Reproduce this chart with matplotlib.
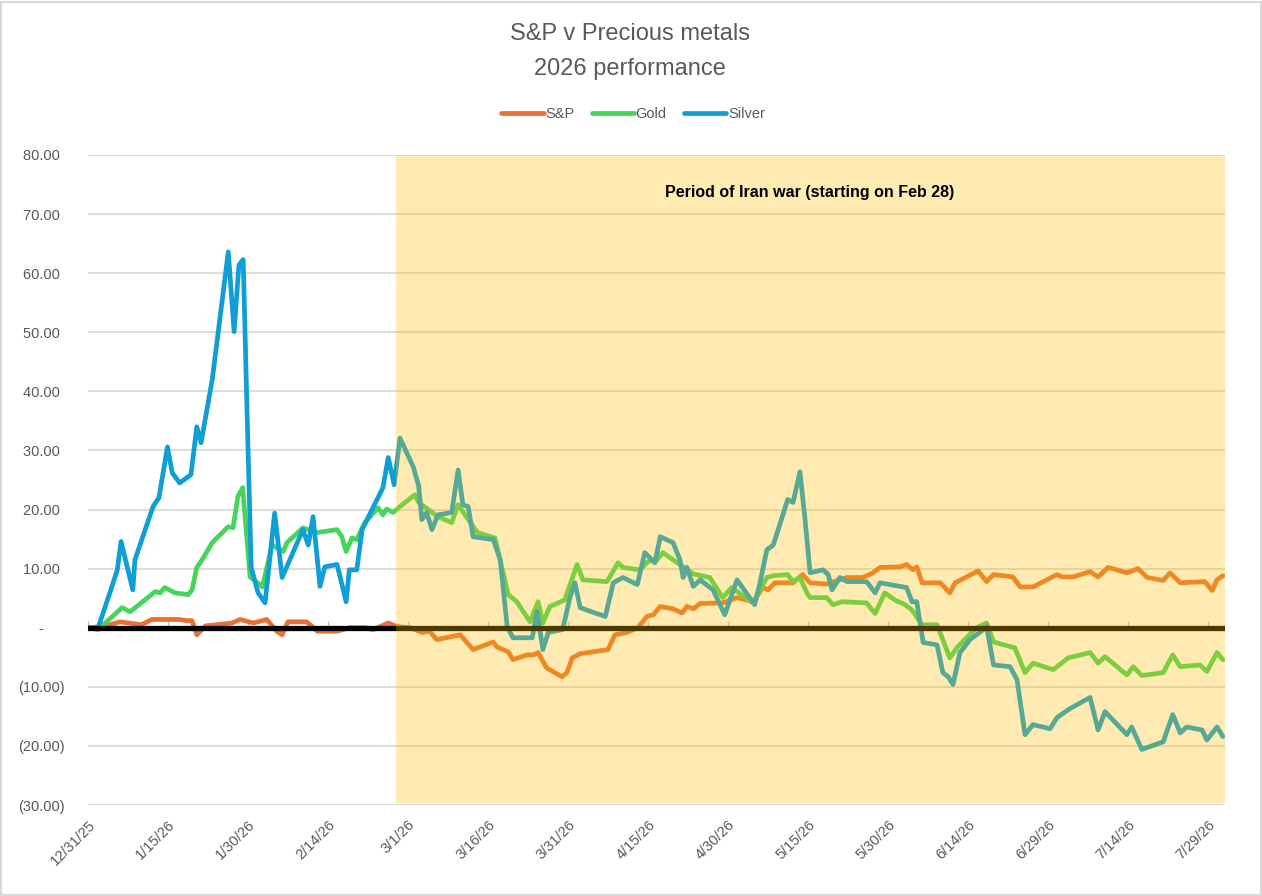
import numpy as np
import matplotlib
matplotlib.use("Agg")
import matplotlib.pyplot as plt
import matplotlib.dates as mdates
from matplotlib.patches import Rectangle
from matplotlib.ticker import FuncFormatter, FixedLocator

plt.rcParams['font.family'] = ['Liberation Sans', 'DejaVu Sans']

base = mdates.date2num(np.datetime64('2025-12-31'))

# days after 12/31/25, % change
sp_days = [0, 3, 6, 10, 12, 17, 18.5, 19.5, 20.4, 22, 27, 28.5, 31, 33.5, 35.4, 36.4, 37.5, 41,
           43, 46.7, 49, 52, 53.5, 56.3, 58, 60.4, 61.3, 62.6, 64, 65.4, 69.8, 72.2, 76, 76.6,
           78.8, 79.7, 82.3, 83.5, 84.4, 86, 88.9, 89.8, 90.8, 92.3, 97.5, 98.8, 101, 103.1,
           104.8, 106, 107.3, 109.7, 111.4, 112.3, 113.5, 114.8, 119, 121.7, 124.7, 126.6,
           127.5, 128.8, 132.2, 134, 135.4, 138.5, 142.3, 145.3, 147.2, 148.5, 152.3, 153.5,
           154.7, 155.4, 156.4, 159.8, 161.6, 162.6, 166.9, 168.5, 169.8, 173.4, 174.8, 177.2,
           181.7, 182.6, 184.7, 187.9, 189.4, 191.3, 194.8, 196.9, 198.6, 201.6, 202.9, 204.8,
           209.4, 210.8, 211.7, 212.8]
sp_vals = [0, 0.2, 1.0, 0.5, 1.4, 1.4, 1.2, 1.2, -1.2, 0.3, 0.8, 1.4, 0.8, 1.4, -0.6, -1.2, 1.0, 1.0,
           -0.6, -0.6, 0, 0, -0.3, 0.8, 0.2, 0, -0.3, -0.8, -0.6, -2.0, -1.2, -3.7, -2.4, -3.2,
           -4.1, -5.4, -4.6, -4.6, -4.2, -6.8, -8.3, -7.6, -5.1, -4.4, -3.7, -1.2, -0.8, 0,
           1.9, 2.2, 3.6, 3.2, 2.5, 3.6, 3.2, 4.1, 4.2, 5.1, 4.4, 6.8,
           6.4, 7.6, 7.6, 9.0, 7.6, 7.4, 8.5, 8.5, 9.3, 10.2, 10.3, 10.7,
           9.8, 10.3, 7.6, 7.6, 5.9, 7.6, 9.6, 7.8, 9.0, 8.6, 6.9, 6.9,
           9.0, 8.6, 8.6, 9.5, 8.6, 10.2, 9.3, 10.0, 8.5, 8.0, 9.3, 7.6,
           7.8, 6.3, 8.1, 8.8]

gold_days = [0, 1.9, 6.4, 7.9, 12.6, 13.5, 14.4, 16.3, 18.8, 19.5, 20.4, 21.4, 23.3, 26.3, 27.2,
             28.1, 29, 30.4, 32.7, 34.5, 36.6, 37.3, 40.3, 42.9, 46.7, 47.6, 48.4, 49.5, 50.4,
             51.9, 54.4, 55.3, 56, 57.2, 58.9, 61.3, 62, 65.6, 68.2, 69.4, 73, 76.3, 78.8, 80.4,
             82.9, 84.4, 85.3, 86.6, 89.4, 91.7, 92.8, 97.3, 99.4, 100.3, 103.5, 105, 106.7,
             107.8, 109.7, 113.5, 116.6, 119, 120.7, 124.7, 127.3, 128.5, 131.2, 132.2, 133.5,
             134.8, 135.4, 138.5, 139.7, 141.4, 146, 147.6, 149.4, 151.3, 153.2, 154.5, 156.4,
             159.2, 161.6, 163.1, 166.6, 168.5, 169.8, 173.8, 175.7, 177.2, 181, 183.8, 187.9,
             189.4, 190.7, 194.8, 196, 197.6, 201.6, 203.4, 204.8, 208.5, 209.8, 211.7, 212.8]
gold_vals = [0, -0.3, 3.4, 2.7, 6.1, 5.9, 6.8, 5.9, 5.6, 6.4, 10.2, 11.5, 14.4, 17.1, 16.9,
             22.2, 23.7, 8.6, 6.9, 14.0, 12.9, 14.4, 16.9, 16.1, 16.6, 15.4, 12.9, 15.2, 14.9,
             17.8, 20.3, 19.1, 20.1, 19.5, 20.8, 22.5, 21.2, 18.8, 17.8, 20.8, 16.1, 15.2, 5.6, 4.4,
             1.0, 4.4, 0.8, 3.6, 4.7, 10.7, 8.1, 7.8, 11.0, 10.2, 9.8, 11.2, 11.5,
             12.7, 11.5, 9.1, 8.5, 5.1, 6.8, 4.2, 8.5, 8.8, 9.0, 7.8, 8.5,
             5.9, 5.1, 5.1, 3.9, 4.4, 4.2, 2.4, 5.9, 4.7, 3.9, 3.0, 0.5,
             0.5, -5.1, -3.2, 0, 0.8, -2.4, -3.4, -7.6, -6.0, -7.1, -5.1, -4.2,
             -6.0, -4.9, -8.0, -6.6, -8.1, -7.6, -4.6, -6.6, -6.3, -7.4, -4.2, -5.4]

silver_days = [0, 1.9, 4.5, 5.5, 6.2, 8.4, 8.8, 12.2, 13.3, 14.9, 15.8, 17.2, 19.3, 20.4, 21.2,
               23.3, 26.3, 27.4, 28.3, 29.1, 29.8, 30.6, 31.9, 33.2, 35, 36.4, 40.3, 41.3, 42.2,
               43.5, 44.4, 46.7, 48.4, 49, 50.4, 51.4, 55.3, 56.3, 57.4, 58.5, 61, 62, 62.6, 63.5,
               64.5, 65.6, 68.2, 69.4, 70.3, 71.3, 72.2, 76, 77.3, 78.6, 79.7, 83.3, 84.2, 85.3,
               86.3, 89, 90.4, 91.3, 92.3, 93.5, 97, 98.5, 100.3, 103, 104.4, 106.3, 107.3, 109.7,
               111, 111.6, 112.3, 113.5, 114.8, 117.2, 119.4, 121.7, 125, 126, 127.3, 128.5, 131.2,
               132.2, 133.5, 134.4, 135.4, 137.8, 138.8, 139.5, 141, 142.3, 146, 147.6, 148.5,
               153.5, 154.5, 155.4, 156.6, 159.2, 160.3, 161.3, 162.2, 163.5, 165.4, 167.2, 168.5,
               169.8, 172.9, 174.2, 175.7, 177.2, 180.4, 181.7, 184.1, 187.9, 189.4, 190.7, 194.8,
               195.7, 197.6, 201.6, 203.4, 204.8, 206, 208.9, 209.8, 211.7, 212.8]
silver_vals = [0, 0, 7.0, 9.8, 14.6, 6.4, 11.5, 20.5, 22.0, 30.6, 26.2, 24.5, 25.9, 34.0, 31.3,
               42.0, 63.6, 50.1, 61.4, 62.3, 37.4, 10.2, 5.9, 4.2, 19.4, 8.5, 16.6, 14.0, 18.8,
               7.0, 10.3, 10.7, 4.4, 9.8, 9.8, 16.6, 23.7, 28.8, 24.2, 32.1, 27.2, 24.0, 18.3, 19.5,
               16.6, 19.1, 19.5, 26.7, 20.8, 20.5, 15.4, 14.9, 11.5, 0.2, -1.7, -1.7, 2.7, -3.7,
               -0.8, -0.3, 5.2, 7.6, 3.4, 3.0, 1.9, 7.6, 8.5, 7.3, 12.7, 11.0, 15.4, 14.4,
               11.5, 8.5, 10.2, 7.0, 8.1, 6.4, 2.2, 8.1, 3.9, 7.6, 13.2, 14.0, 21.7,
               21.2, 26.4, 18.8, 9.3, 9.8, 9.0, 6.4, 8.5, 7.8, 7.8, 5.9, 7.6,
               6.8, 4.4, 4.4, -2.5, -2.9, -7.6, -8.3, -9.6, -4.2, -2.0, -0.8, 0.2,
               -6.3, -6.6, -8.8, -18.1, -16.4, -17.1, -15.2, -13.7, -11.8, -17.3, -14.2, -18.1,
               -16.8, -20.6, -19.3, -14.7, -17.8, -16.8, -17.3, -19.0, -16.8, -18.4]

tick_days = np.arange(0, 211, 15)
war_start, x_end = 57.7, 213.2

grey = '#595959'
fig = plt.figure(figsize=(12.62, 8.96), dpi=100)
fig.patches.append(Rectangle((0.001, 0.001), 0.998, 0.997, transform=fig.transFigure,
                             fill=False, edgecolor='#D9D9D9', lw=1.5))
ax = fig.add_axes([88 / 1262, 1 - 805 / 896, (1225 - 88) / 1262, 650 / 896])

line_kw = dict(lw=3.4, solid_joinstyle='round', solid_capstyle='round', zorder=3)
ax.plot(base + np.array(sp_days), sp_vals, color='#E97132', label='S&P', **line_kw)
ax.plot(base + np.array(gold_days), gold_vals, color='#45D55A', label='Gold', **line_kw)
ax.plot(base + np.array(silver_days), silver_vals, color='#0F9ED5', label='Silver', **line_kw)
ax.axhline(0, color='black', lw=3.8, zorder=3.5)

ax.fill_between([base + war_start, base + x_end], -29.6, 80, color='#FFC000', alpha=0.3,
                lw=0, zorder=4)
ax.text(base + 135.4, 73.6, 'Period of Iran war (starting on Feb 28)', ha='center', va='center',
        fontsize=11.5, fontweight='bold', color='black', zorder=5)

ax.set_xlim(base, base + x_end)
ax.set_ylim(-30, 80)
ax.set_yticks(np.arange(-30, 81, 10))


def acct(v, pos):
    if abs(v) < 1e-9:
        return '-     '
    if v < 0:
        return f'({abs(v):.2f})'
    return f'{v:.2f} '


ax.yaxis.set_major_formatter(FuncFormatter(acct))
ax.xaxis.set_major_locator(FixedLocator(base + tick_days))
ax.xaxis.set_major_formatter(mdates.DateFormatter('%-m/%-d/%y'))
ax.grid(axis='y', color='#D9D9D9', lw=1.3, zorder=1)
ax.set_axisbelow(True)
for s in ax.spines.values():
    s.set_visible(False)
ax.tick_params(axis='y', length=0, pad=17, labelsize=10.5, labelcolor=grey)
ax.tick_params(axis='x', length=0, pad=9, labelsize=10.5, labelcolor=grey)
plt.setp(ax.get_xticklabels(), rotation=45, ha='right', rotation_mode='anchor')

sec = ax.secondary_xaxis(30 / 110)
sec.set_xticks(base + tick_days)
sec.set_xticklabels([])
sec.tick_params(axis='x', direction='in', length=5, color='#BFBFBF', width=1)
sec.spines['bottom'].set_visible(False)

fig.text(630 / 1262, 1 - 34 / 896, 'S&P v Precious metals', ha='center', va='center',
         fontsize=17, color=grey)
fig.text(630 / 1262, 1 - 69 / 896, '2026 performance', ha='center', va='center',
         fontsize=17, color=grey)
fig.legend(loc='center', bbox_to_anchor=(633 / 1262, 1 - 114 / 896), ncol=3, frameon=False,
           fontsize=10.5, labelcolor=grey, handlelength=2.9, handletextpad=0.1,
           columnspacing=1.2)

fig.savefig('out.png', dpi=100)
